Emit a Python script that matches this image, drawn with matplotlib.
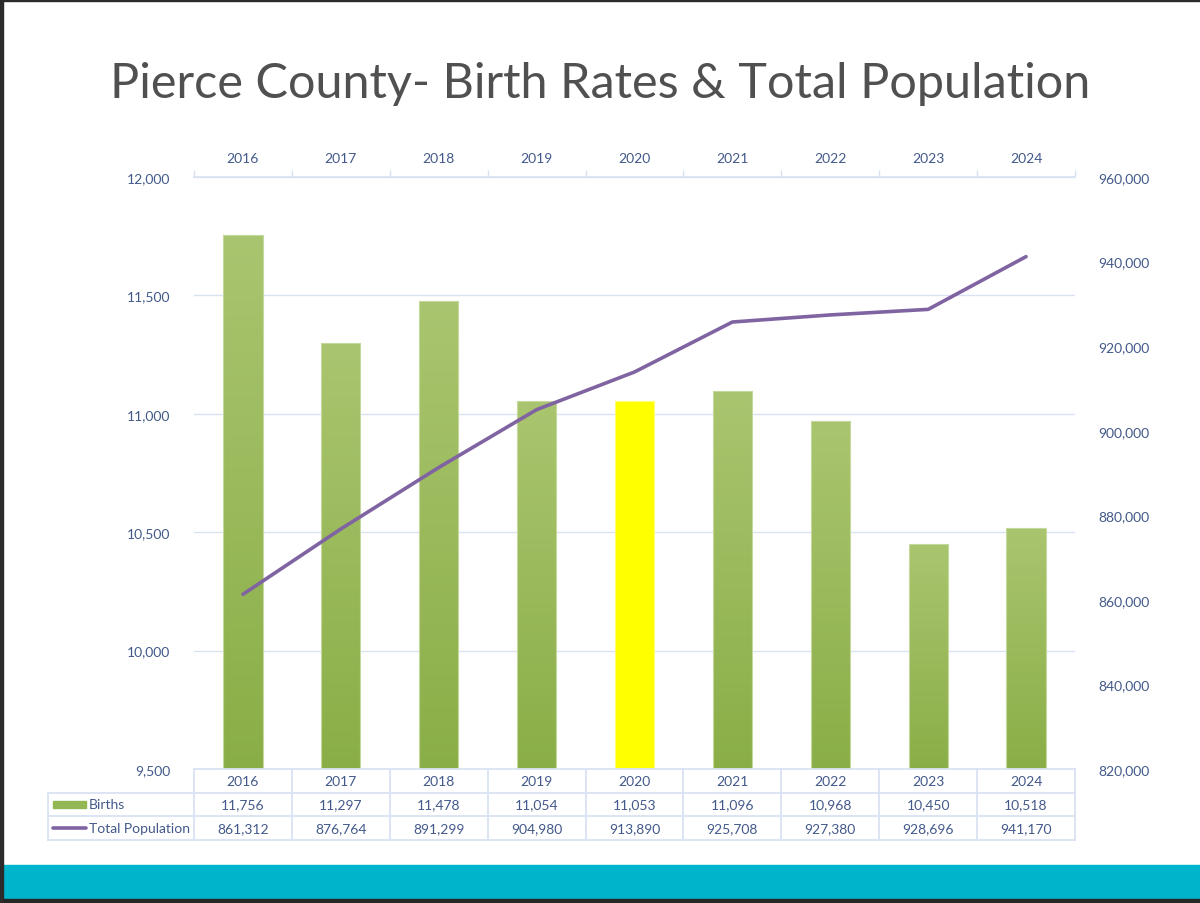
import numpy as np
import matplotlib.pyplot as plt
from matplotlib.patches import Rectangle
from matplotlib.lines import Line2D
from matplotlib.colors import LinearSegmentedColormap

# Data
years = ['2016', '2017', '2018', '2019', '2020', '2021', '2022', '2023', '2024']
births = [11756, 11297, 11478, 11054, 11053, 11096, 10968, 10450, 10518]
population = [861312, 876764, 891299, 904980, 913890, 925708, 927380, 928696, 941170]
highlight_year = '2020'

plt.rcParams['font.family'] = ['Lato', 'DejaVu Sans']

W, H = 1200, 904
txt_col = '#42598A'
grid_col = '#D9E2F3'
line_col = '#8064A2'


def fx(px):
    return px / W


def fy(py):
    return 1 - py / H


fig = plt.figure(figsize=(12, 9.04), dpi=100)

# slide frame and footer band
fig.patches.append(Rectangle((0, fy(900)), 1, 34 / H, transform=fig.transFigure,
                             color='#00B4CB', zorder=0))
fig.patches.append(Rectangle((0, 0), 1, 4 / H, transform=fig.transFigure, color='#262626'))
fig.patches.append(Rectangle((0, 0), 3 / W, 1, transform=fig.transFigure, color='#2B2B2B'))
fig.patches.append(Rectangle((0, 1 - 2 / H), 1, 2 / H, transform=fig.transFigure, color='#2B2B2B'))

fig.text(0.5, fy(84), 'Pierce County- Birth Rates & Total Population', ha='center',
         va='center', fontsize=35, color='#505050')

# main chart
ax = fig.add_axes([fx(194), fy(770), fx(1075) - fx(194), fy(178) - fy(770)])
x = np.arange(len(years))
bars = ax.bar(x, births, width=0.4, color='none', edgecolor='#C5D89E', linewidth=0.8, zorder=3)

cmap = LinearSegmentedColormap.from_list('green', ['#8AAE47', '#AAC56F'])
grad = np.linspace(0, 1, 256).reshape(-1, 1)
for bar, yr in zip(bars, years):
    if yr == highlight_year:
        bar.set_facecolor('#FFFF00')
        bar.set_edgecolor('#FFFF70')
        continue
    x0 = bar.get_x()
    im = ax.imshow(grad, cmap=cmap, origin='lower', aspect='auto', zorder=2,
                   extent=[x0, x0 + bar.get_width(), 9500, bar.get_height()])
    im.set_clip_path(bar)

ax.set_xlim(-0.5, 8.5)
ax.set_ylim(9500, 12000)
ax.set_yticks(np.arange(9500, 12001, 500))
ax.set_yticklabels([f'{v:,}' for v in range(9500, 12001, 500)])
ax.yaxis.grid(True, color=grid_col, linewidth=1)
ax.set_axisbelow(True)
ax.tick_params(axis='y', length=0, pad=17, labelsize=10, labelcolor=txt_col)

ax.xaxis.tick_top()
ax.set_xticks(x)
ax.set_xticklabels(years)
ax.set_xticks(np.arange(-0.5, 9, 1), minor=True)
ax.tick_params(axis='x', which='major', length=0, pad=9, labelsize=10, labelcolor=txt_col)
ax.tick_params(axis='x', which='minor', top=True, bottom=False, length=5,
               color=grid_col, width=1)
for s in ['left', 'right', 'bottom']:
    ax.spines[s].set_visible(False)
ax.spines['top'].set_color(grid_col)
ax.spines['top'].set_linewidth(1.2)

ax2 = ax.twinx()
ax2.plot(x, population, color=line_col, linewidth=2.6, solid_capstyle='round', zorder=4)
ax2.set_ylim(820000, 960000)
ax2.set_yticks(np.arange(820000, 960001, 20000))
ax2.set_yticklabels([f'{v:,}' for v in range(820000, 960001, 20000)])
ax2.tick_params(axis='y', length=0, pad=17, labelsize=10, labelcolor=txt_col)
for s in ax2.spines.values():
    s.set_visible(False)

# data table under the chart
cat_px = (1075 - 194) / len(years)
lab_w = (194 - 48) / cat_px
tax = fig.add_axes([fx(48), fy(841), fx(1075) - fx(48), fy(770) - fy(841)])
left = -0.5 - lab_w
tax.set_xlim(left, len(years) - 0.5)
tax.set_ylim(3, 0)
tax.axis('off')

tcol = '#DAE3F3'
tax.plot([-0.5, len(years) - 0.5], [0, 0], color=tcol, lw=1.3, clip_on=False)
for r in [1, 2, 3]:
    tax.plot([left, len(years) - 0.5], [r, r], color=tcol, lw=1.3, clip_on=False)
for b in np.arange(-0.5, len(years), 1):
    tax.plot([b, b], [0, 3], color=tcol, lw=1.3, clip_on=False)
tax.plot([left, left], [1, 3], color=tcol, lw=1.3, clip_on=False)

for i in range(len(years)):
    tax.text(x[i], 0.5, years[i], ha='center', va='center', fontsize=10, color=txt_col)
    tax.text(x[i], 1.5, f'{births[i]:,}', ha='center', va='center', fontsize=10, color=txt_col)
    tax.text(x[i], 2.5, f'{population[i]:,}', ha='center', va='center', fontsize=10, color=txt_col)

# legend keys
sw0, sw1 = left + 5 / cat_px, left + 38 / cat_px
tax.add_patch(Rectangle((sw0, 1.35), sw1 - sw0, 0.3, color='#94B756', clip_on=False))
tax.add_line(Line2D([sw0, sw1], [2.5, 2.5], color=line_col, lw=2.6,
                    solid_capstyle='round', clip_on=False))
tax.text(left + 41 / cat_px, 1.5, 'Births', ha='left', va='center', fontsize=10, color=txt_col)
tax.text(left + 41 / cat_px, 2.5, 'Total Population', ha='left', va='center', fontsize=10,
         color=txt_col)

fig.savefig('out.png', dpi=100)
